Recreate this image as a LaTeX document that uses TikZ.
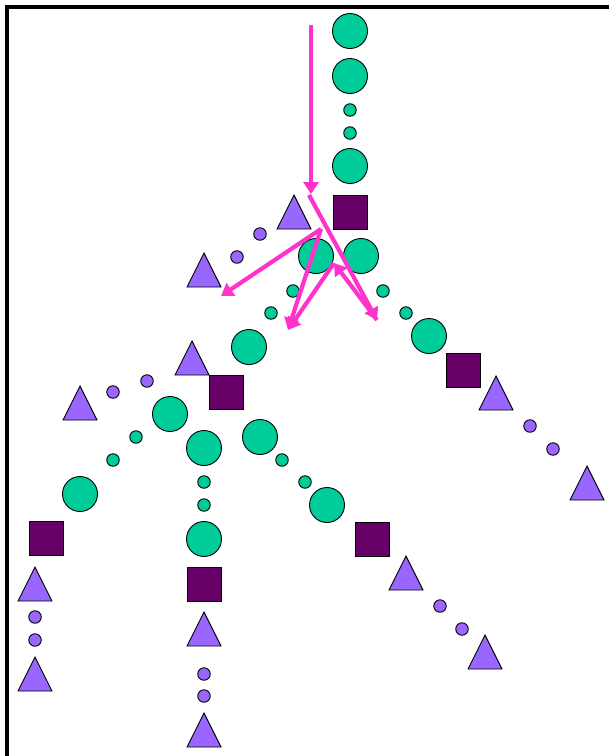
\documentclass[tikz,border=0pt]{standalone}
\usepackage{tikz}
\usetikzlibrary{arrows.meta, positioning}
\definecolor{tealG}{HTML}{00CC99}
\definecolor{lilac}{HTML}{9966FF}
\definecolor{plum}{HTML}{660066}
\definecolor{hotPink}{HTML}{FF33CC}
\tikzset{
  bigG/.style={circle, draw=black, fill=tealG, line width=0.9pt,
               inner sep=0pt, minimum size=35pt},
  smallG/.style={circle, draw=black, fill=tealG, line width=0.9pt,
                 inner sep=0pt, minimum size=12.5pt},
  smallP/.style={circle, draw=black, fill=lilac, line width=0.9pt,
                 inner sep=0pt, minimum size=12.5pt},
  sqr/.style={rectangle, draw=black, fill=plum, line width=0.9pt,
              inner sep=0pt, minimum size=34pt},
  tri/.pic={\draw[black, fill=lilac, line width=0.9pt]
              (-17,17) -- (17,17) -- (0,-17) -- cycle;},
  flow/.style={hotPink, line width=4.2pt,
               -{Triangle[length=12pt, width=15pt]}},
}

\begin{document}
\begin{tikzpicture}[x=1pt, y=-1pt]
    \useasboundingbox (0,0) rectangle (609,756);
    %% frame
    \draw[line width=3.5pt] (7,756) -- (7,7) -- (609,7);
    %% top stem
    \node[bigG]   (s1) at (350,31)  {};
    \node[bigG]   (s2) at (350,76)  {};
    \node[smallG] (s3) at (350,110) {};
    \node[smallG] (s4) at (350,133) {};
    \node[bigG]   (s5) at (350,166) {};
    \node[sqr]    (s6) at (350,212) {};
    \pic (t1) at (294,212) {tri};
    %% short purple branch
    \node[smallP] (p1) at (260,234) {};
    \node[smallP] (p2) at (237,257) {};
    \pic (t2) at (204,270) {tri};
    %% fork under the top square
    \node[bigG]   (f1) at (316,256) {};
    \node[bigG]   (f2) at (361,256) {};
    %% right branch
    \node[smallG] (r1) at (383,291) {};
    \node[smallG] (r2) at (406,313) {};
    \node[bigG]   (r3) at (429,336) {};
    \node[sqr]    (r4) at (463,370) {};
    \pic (t3) at (496,393) {tri};
    \node[smallP] (r5) at (530,426) {};
    \node[smallP] (r6) at (553,449) {};
    \pic (t4) at (587,483) {tri};
    %% left branch
    \node[smallG] (l1) at (293,291) {};
    \node[smallG] (l2) at (271,313) {};
    \node[bigG]   (l3) at (249,347) {};
    \node[sqr]    (l4) at (226,392) {};
    \pic (t5) at (192,358) {tri};
    \node[smallP] (l5) at (147,381) {};
    \node[smallP] (l6) at (113,392) {};
    \pic (t6) at (80,403) {tri};
    %% three-way fork under the left square
    \node[bigG]   (g1) at (170,414) {};
    \node[bigG]   (g2) at (204,448) {};
    \node[bigG]   (g3) at (260,437) {};
    %% far left chain
    \node[smallG] (a1) at (136,437) {};
    \node[smallG] (a2) at (113,460) {};
    \node[bigG]   (a3) at (80,494)  {};
    \node[sqr]    (a4) at (46,538)  {};
    \pic (t7) at (35,584) {tri};
    \node[smallP] (a5) at (35,617) {};
    \node[smallP] (a6) at (35,640) {};
    \pic (t8) at (35,674) {tri};
    %% middle chain
    \node[smallG] (m1) at (204,482) {};
    \node[smallG] (m2) at (204,505) {};
    \node[bigG]   (m3) at (204,539) {};
    \node[sqr]    (m4) at (204,584) {};
    \pic (t9) at (204,629) {tri};
    \node[smallP] (m5) at (204,674) {};
    \node[smallP] (m6) at (204,696) {};
    \pic (t10) at (204,730) {tri};
    %% lower right chain
    \node[smallG] (b1) at (282,460) {};
    \node[smallG] (b2) at (305,482) {};
    \node[bigG]   (b3) at (327,505) {};
    \node[sqr]    (b4) at (372,539) {};
    \pic (t11) at (406,573) {tri};
    \node[smallP] (b5) at (440,606) {};
    \node[smallP] (b6) at (462,629) {};
    \pic (t12) at (485,652) {tri};
    %% arrow ends
    \coordinate (k0) at (311,25);
    \coordinate (k1) at (311,194);
    \coordinate (k2) at (309,195);
    \coordinate (k3) at (377,320);
    \coordinate (k4) at (321,229);
    \coordinate (k5) at (221,296);
    \coordinate (k6) at (288,330);
    \coordinate (k7) at (334,263);
    %% arrows
    \draw[flow] (k0) -- (k1);
    \draw[flow] (k2) -- (k3);
    \draw[flow] (k4) -- (k5);
    \draw[flow] (k4) -- (k6);
    \draw[flow] (k3) -- (k7);
    \draw[flow] (k7) -- (k6);
\end{tikzpicture}
\end{document}
